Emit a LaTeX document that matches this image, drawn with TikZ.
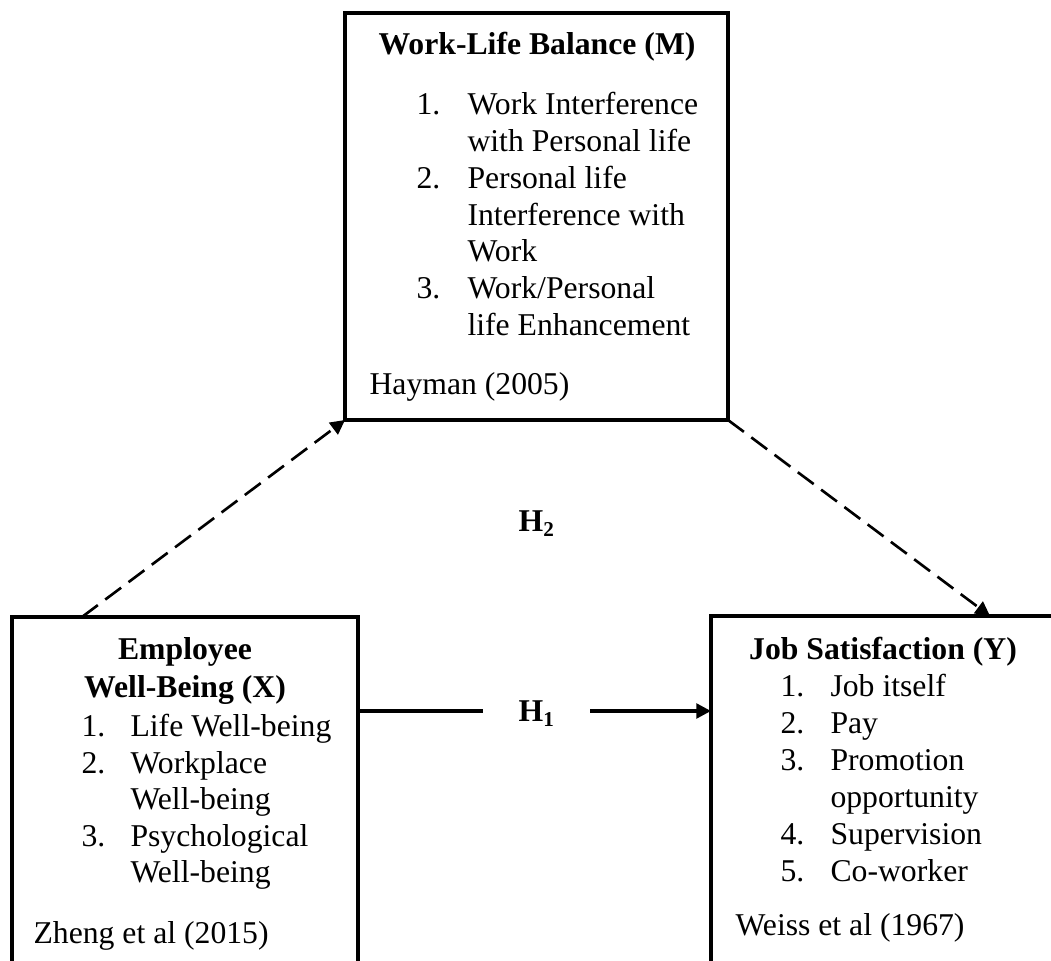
\documentclass[tikz,border=0pt]{standalone}
\usepackage{fontspec}
\setmainfont{Liberation Serif}
\usetikzlibrary{fit,calc,arrows.meta}

\begin{document}
\begin{tikzpicture}[x=0.3785pt,y=-0.3785pt,
  box/.style={draw, line width=1.5pt, inner sep=0pt, outer sep=0pt},
  txt/.style={inner sep=0pt, anchor=base west, font=\fontsize{12}{14}\selectfont},
  ttl/.style={inner sep=0pt, anchor=base, font=\fontsize{12}{14}\selectfont\bfseries},
  dasharrow/.style={line width=1pt, dash pattern=on 7.5pt off 3.5pt,
    -{Triangle[length=5.5pt,width=5.5pt]}},
  solidlink/.style={line width=1.25pt},
  solidarrow/.style={line width=1.25pt, -{Triangle[length=5.5pt,width=5.5pt]}},
]
\useasboundingbox (0,0) rectangle (1051,961);
\clip (0,0) rectangle (1051,961);

% ---- boxes (the lower two run past the page edge) ----
\node[box, fit={(345,13) (728,420)}] (M) {};
\node[box, fit={(12,617) (358,1100)}] (X) {};
\node[box, fit={(711,616) (1200,1100)}] (Y) {};

% ---- mediator: Work-Life Balance ----
\node[ttl] (mT) at (537,55) {Work-Life Balance (M)};
\node[txt] (mN1) at (416,115) {1.};
\node[txt] (mL1) at (467,115) {Work Interference};
\node[txt] (mL2) at (467,152) {with Personal life};
\node[txt] (mN2) at (416,189) {2.};
\node[txt] (mL3) at (467,189) {Personal life};
\node[txt] (mL4) at (467,226) {Interference with};
\node[txt] (mL5) at (467,262) {Work};
\node[txt] (mN3) at (416,299) {3.};
\node[txt] (mL6) at (467,299) {Work/Personal};
\node[txt] (mL7) at (467,336) {life Enhancement};
\node[txt] (mRef) at (369,395) {Hayman (2005)};

% ---- independent variable: Employee Well-Being ----
\node[ttl] (xT1) at (185,660) {Employee};
\node[ttl] (xT2) at (185,698) {Well-Being (X)};
\node[txt] (xN1) at (81,736) {1.};
\node[txt] (xL1) at (130,736) {Life Well-being};
\node[txt] (xN2) at (81,773) {2.};
\node[txt] (xL2) at (130,773) {Workplace};
\node[txt] (xL3) at (130,809) {Well-being};
\node[txt] (xN3) at (81,846) {3.};
\node[txt] (xL4) at (130,846) {Psychological};
\node[txt] (xL5) at (130,882) {Well-being};
\node[txt] (xRef) at (33,943) {Zheng et al (2015)};

% ---- dependent variable: Job Satisfaction ----
\node[ttl] (yT) at (883,660) {Job Satisfaction (Y)};
\node[txt] (yN1) at (780,697) {1.};
\node[txt] (yL1) at (830,697) {Job itself};
\node[txt] (yN2) at (780,733) {2.};
\node[txt] (yL2) at (830,733) {Pay};
\node[txt] (yN3) at (780,770) {3.};
\node[txt] (yL3) at (830,770) {Promotion};
\node[txt] (yL4) at (830,807) {opportunity};
\node[txt] (yN4) at (780,844) {4.};
\node[txt] (yL5) at (830,844) {Supervision};
\node[txt] (yN5) at (780,881) {5.};
\node[txt] (yL6) at (830,881) {Co-worker};
\node[txt] (yRef) at (735,935) {Weiss et al (1967)};

% ---- hypothesis labels ----
\node[ttl] (h2) at (537,532) {H\textsubscript{2}};
\node[ttl] (h1) at (537,722) {H\textsubscript{1}};

% ---- paths ----
\draw[dasharrow] ($(X.north west)+(70,0)$) -- (M.south west);
\draw[dasharrow] (M.south east) -- ($(Y.north west)+(279,0)$);

\coordinate (h1l) at (483,711);
\coordinate (h1r) at (590,711);
\draw[solidlink] (X.north east |- h1l) -- (h1l);
\draw[solidarrow] (h1r) -- (Y.north west |- h1r);
\end{tikzpicture}
\end{document}
